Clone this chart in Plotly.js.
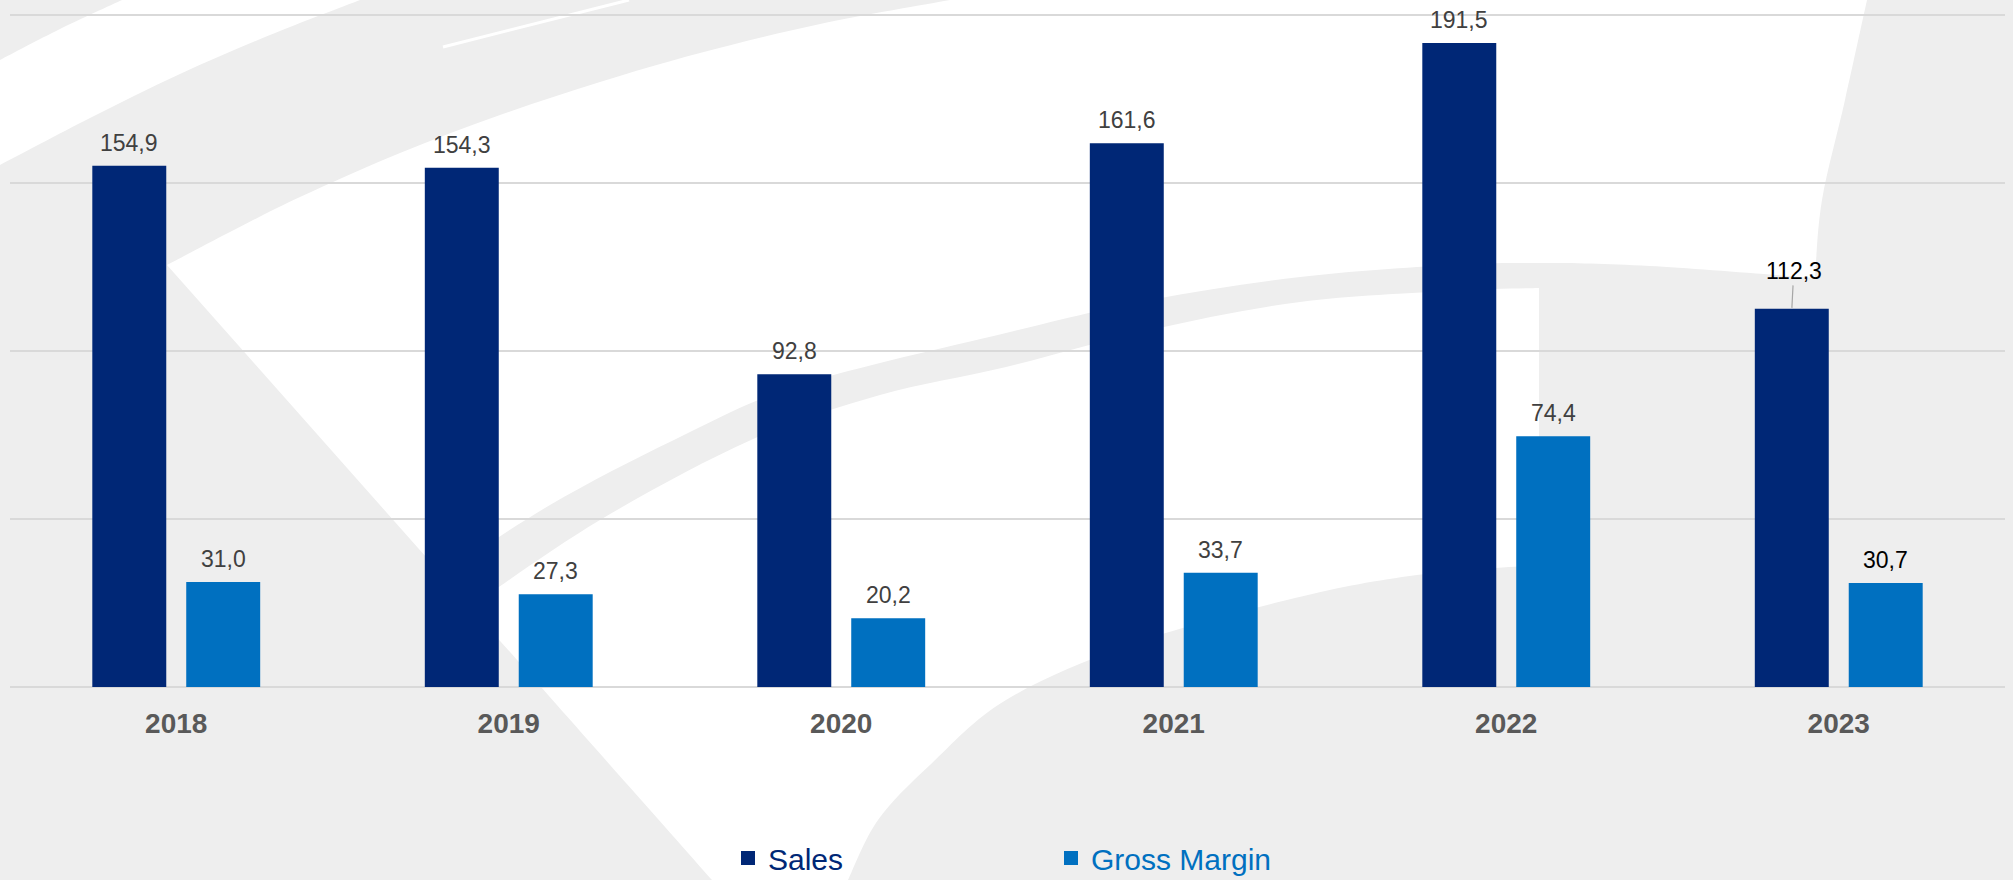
<!DOCTYPE html>
<html>
<head>
<meta charset="utf-8">
<script src="https://cdn.plot.ly/plotly-3.0.1.min.js"></script>
<style>
  html, body { margin: 0; padding: 0; background: #eeeeee; }
  #chart { width: 2013px; height: 880px; }
</style>
</head>
<body>
<div id="chart"></div>
<script>
// ---- data ----
const categories = ['2018', '2019', '2020', '2021', '2022', '2023'];
const sales = [154.9, 154.3, 92.8, 161.6, 191.5, 112.3];
const grossMargin = [31.0, 27.3, 20.2, 33.7, 74.4, 30.7];
const seriesNames = ['Sales', 'Gross Margin'];

// ---- styling ----
const FONT = "Arial, 'Liberation Sans', Helvetica, sans-serif";
const colors = ['#002776', '#0070C0'];
const labelColor = '#404040';
const emphasisCategory = '2023';   // labels drawn in black in the reference
const calloutCategory = '2023';    // Sales label with a leader line

const W = 2013, H = 880;
const M = { l: 10, r: 8, t: 12, b: 193 };
const PW = W - M.l - M.r, PH = H - M.t - M.b;
const YMAX = 201;
const bargap = 0.435, bargroupgap = 0.234;

// ---- background watermark (decoration, pixel -> paper) ----
const xp = px => ((px - M.l) / PW);
const yp = py => ((H - M.b - py) / PH);
const P = p => xp(p[0]).toFixed(5) + ',' + yp(p[1]).toFixed(5);

// a region is a list of chains; each chain is drawn as a smooth curve,
// consecutive chains are joined with straight lines
function smoothChain(pts) {
  let d = '';
  for (let i = 0; i < pts.length - 1; i++) {
    const p0 = pts[Math.max(i - 1, 0)], p1 = pts[i], p2 = pts[i + 1], p3 = pts[Math.min(i + 2, pts.length - 1)];
    const c1 = [p1[0] + (p2[0] - p0[0]) / 6, p1[1] + (p2[1] - p0[1]) / 6];
    const c2 = [p2[0] - (p3[0] - p1[0]) / 6, p2[1] - (p3[1] - p1[1]) / 6];
    d += ' C' + P(c1) + ' ' + P(c2) + ' ' + P(p2);
  }
  return d;
}
function regionPath(chains) {
  let d = 'M' + P(chains[0][0]);
  chains.forEach((ch, k) => {
    if (k > 0) d += ' L' + P(ch[0]);
    d += smoothChain(ch);
  });
  return d + ' Z';
}

const whiteRegions = [
  [
    [[0,60],[60,29],[122,0]],
    [[360,0],[270,35],[180,74],[90,118],[0,165]]
  ],
  [
    [[167,265],[230,232],[300,197],[400,153],[500,115],[600,82],[700,53],[820,24],[950,0]],
    [[1867,0],[1845,100],[1822,200],[1815,278]],
    [[1815,278],[1650,266],[1541,263],[1450,265],[1300,277],[1150,300],[1006,333],[800,385],[674,440],[550,505],[442,575]]
  ],
  [
    [[470,607],[712,880]],
    [[848,880],[878,820],[930,765],[1006,700],[1129,645],[1295,598],[1417,575],[1539,565]],
    [[1539,288],[1450,291],[1300,302],[1150,330],[1006,367],[880,395],[751,440],[600,520],[470,607]]
  ]
];

const shapes = whiteRegions.map(chains => ({
  type: 'path', xref: 'paper', yref: 'paper', layer: 'below',
  path: regionPath(chains), fillcolor: '#ffffff', line: { width: 0 }
}));
shapes.push({
  type: 'line', xref: 'paper', yref: 'paper', layer: 'below',
  x0: xp(443), y0: yp(47), x1: xp(629), y1: yp(0),
  line: { color: '#ffffff', width: 3 }
});

const fmt = v => v.toFixed(1).replace('.', ',');

const allSeries = [sales, grossMargin];
const traces = allSeries.map((vals, s) => ({
  type: 'bar',
  name: '<span style="color:' + colors[s] + '">' + seriesNames[s] + '</span>',
  x: categories,
  y: vals,
  marker: { color: colors[s], line: { color: colors[s], width: 2 } },
  hoverinfo: 'skip'
}));

const half = (1 - bargap) / 4;
const annotations = [];
allSeries.forEach((vals, s) => {
  const off = s === 0 ? -half : half;
  vals.forEach((v, i) => {
    const isCallout = s === 0 && categories[i] === calloutCategory;
    const a = {
      xref: 'x', yref: 'y',
      x: i + off, y: v,
      text: fmt(v),
      font: { family: FONT, size: 23, color: categories[i] === emphasisCategory ? '#000000' : labelColor },
      showarrow: false,
      yanchor: 'bottom',
      yshift: 9
    };
    if (isCallout) {
      a.showarrow = true;
      a.arrowhead = 0;
      a.arrowwidth = 1.2;
      a.arrowcolor = '#a6a6a6';
      a.ax = 2;
      a.ay = -39;
      a.standoff = 2;
      delete a.yanchor;
      delete a.yshift;
    }
    annotations.push(a);
  });
});

const layout = {
  width: W, height: H,
  margin: M,
  paper_bgcolor: '#eeeeee',
  plot_bgcolor: 'rgba(0,0,0,0)',
  barmode: 'group',
  bargap: bargap,
  bargroupgap: bargroupgap,
  font: { family: FONT },
  showlegend: true,
  legend: {
    orientation: 'h',
    xref: 'container', yref: 'container',
    x: 728 / W, xanchor: 'left',
    y: 1 - 858 / H, yanchor: 'middle',
    font: { family: FONT, size: 30 },
    entrywidth: 278,
    bgcolor: 'rgba(0,0,0,0)',
    traceorder: 'normal'
  },
  xaxis: {
    type: 'category',
    showgrid: false, showline: false, zeroline: false,
    ticks: 'outside', ticklen: 11, tickcolor: 'rgba(0,0,0,0)',
    tickfont: { family: FONT, size: 28, color: '#595959', weight: 700 },
    fixedrange: true
  },
  yaxis: {
    range: [0, YMAX],
    tick0: 0, dtick: 50,
    showticklabels: false,
    showgrid: true, gridcolor: '#d9d9d9', gridwidth: 2,
    zeroline: true, zerolinecolor: '#d9d9d9', zerolinewidth: 2,
    showline: false, ticks: '',
    fixedrange: true
  },
  shapes: shapes,
  annotations: annotations
};

Plotly.newPlot('chart', traces, layout, { displayModeBar: false, staticPlot: true });
</script>
</body>
</html>
